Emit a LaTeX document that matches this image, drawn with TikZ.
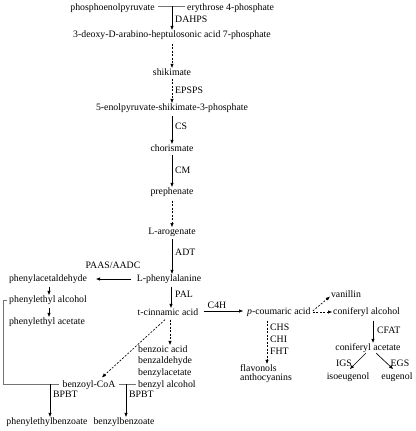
\documentclass[tikz,border=0pt]{standalone}
\usepackage{fontspec}
\setmainfont{Liberation Serif}
\usetikzlibrary{arrows.meta}
\tikzset{
  lab/.style={inner sep=0pt, font=\fontsize{9.8}{11}\selectfont},
  arr/.style={-{Triangle[length=4pt,width=3pt]}, line width=0.65pt, black},
  darr/.style={arr, dash pattern=on 2pt off 1.5pt},
  ln/.style={line width=0.6pt, black!55},
}
\begin{document}
\begin{tikzpicture}[x=1pt,y=-1pt]
\useasboundingbox (0,0) rectangle (415,431);
% main column
\node[lab,anchor=east] (pep) at (155,8) {phosphoenolpyruvate};
\node[lab,anchor=west] (e4p) at (187,8) {erythrose 4-phosphate};
\coordinate (j1) at (172,6);
\node[lab] (dahp) at (172,35) {3-deoxy-D-arabino-heptulosonic acid 7-phosphate};
\node[lab,anchor=west] (dahps) at (175,19) {DAHPS};
\node[lab] (shik) at (172,72) {shikimate};
\node[lab,anchor=west] (epsps) at (175,90) {EPSPS};
\node[lab] (esp) at (172,108) {5-enolpyruvate-shikimate-3-phosphate};
\node[lab,anchor=west] (cs) at (175,126) {CS};
\node[lab] (chor) at (172,148) {chorismate};
\node[lab,anchor=west] (cm) at (175,170) {CM};
\node[lab] (preph) at (172,192) {prephenate};
\node[lab] (arog) at (172,232) {L-arogenate};
\node[lab,anchor=west] (adt) at (175,252) {ADT};
\node[lab] (phe) at (169,279) {L-phenylalanine};
\node[lab,anchor=west] (pal) at (175,294) {PAL};
\node[lab] (tcin) at (168,312) {t-cinnamic acid};
% left branch
\node[lab] (paas) at (113,265) {PAAS/AADC};
\node[lab] (phald) at (48,279) {phenylacetaldehyde};
\node[lab] (pea) at (48,300) {phenylethyl alcohol};
\node[lab] (peac) at (47,322) {phenylethyl acetate};
% benzenoids
\node[lab,anchor=west] (bzac) at (138,349) {benzoic acid};
\node[lab,anchor=west] (bzald) at (138,361) {benzaldehyde};
\node[lab,anchor=west] (bzlac) at (138,373) {benzylacetate};
\node[lab,anchor=west] (bzalc) at (138,385) {benzyl alcohol};
\node[lab] (bcoa) at (89,385) {benzoyl-CoA};
\node[lab,anchor=west] (bpbt1) at (53,394) {BPBT};
\node[lab,anchor=west] (bpbt2) at (129,394) {BPBT};
\node[lab] (pebz) at (47,422) {phenylethylbenzoate};
\node[lab] (bzbz) at (124,422) {benzylbenzoate};
% phenylpropanoids
\node[lab,anchor=south] (c4h) at (217,309) {C4H};
\node[lab,anchor=west] (pcou) at (247,312) {\textit{p}-coumaric acid};
\node[lab] (van) at (346,294) {vanillin};
\node[lab,anchor=west] (conalc) at (333,312) {coniferyl alcohol};
\node[lab,anchor=west] (cfat) at (377,330) {CFAT};
\node[lab] (conac) at (368,348) {coniferyl acetate};
\node[lab] (igs) at (344,363) {IGS};
\node[lab] (egs) at (400,363) {EGS};
\node[lab] (isoeug) at (348,377) {isoeugenol};
\node[lab] (eug) at (397,377) {eugenol};
\node[lab,anchor=west] (chs) at (270,327) {CHS};
\node[lab,anchor=west] (chi) at (270,339) {CHI};
\node[lab,anchor=west] (fht) at (270,351) {FHT};
\node[lab,anchor=west] (flav) at (240,368) {flavonols};
\node[lab,anchor=west] (anth) at (240,378) {anthocyanins};
% coordinates
\coordinate (jb1) at (50,384);
\coordinate (jb2) at (126,384);
% connectors main column
\draw[ln] ([xshift=3pt]pep.east |- j1) -- ([xshift=-2pt]e4p.west |- j1);
\draw[arr] (j1) -- ([yshift=0.5pt]j1 |- dahp.north);
\draw[darr] ([yshift=-4pt]dahp.south) -- ([yshift=0.5pt]shik.north);
\draw[darr] ([yshift=-3pt]shik.south) -- ([yshift=0.5pt]esp.north);
\draw[arr] ([yshift=-3pt]esp.south) -- ([yshift=0.5pt]chor.north);
\draw[arr] ([yshift=-3pt]chor.south) -- ([yshift=0.5pt]preph.north);
\draw[darr] ([yshift=-4pt]preph.south) -- ([yshift=0.5pt]arog.north);
\draw[arr] ([yshift=-3pt]arog.south) -- ([yshift=0.5pt]arog.south |- phe.north);
\draw[arr] ([xshift=2pt,yshift=-3pt]phe.south) -- ([xshift=2pt,yshift=0.5pt]phe.south |- tcin.north);
% left branch
\draw[arr] ([xshift=-6pt]phe.west) -- ([xshift=9pt]phald.east);
\draw[arr] ([xshift=1pt,yshift=-3pt]phald.south) -- ([xshift=1pt,yshift=0.5pt]phald.south |- pea.north);
\draw[arr] ([xshift=1pt,yshift=-3pt]pea.south) -- ([xshift=1pt,yshift=0.5pt]pea.south |- peac.north);
\draw[ln] ([xshift=-2pt]pea.west) -- (3,300) |- ([xshift=-3pt]bcoa.west |- jb1);
\draw[arr] (jb1) -- ([yshift=0.5pt]jb1 |- pebz.north);
\draw[ln] ([xshift=3pt]bcoa.east |- jb2) -- ([xshift=-2pt]bzalc.west |- jb2);
\draw[arr] (jb2) -- ([yshift=0.5pt]jb2 |- bzbz.north);
\draw[darr] ([xshift=2pt,yshift=-4pt]tcin.south) -- ([xshift=2pt,yshift=0.5pt]tcin.south |- bzac.north);
\draw[darr] ([xshift=-3pt,yshift=-4pt]tcin.south) -- ([xshift=13pt,yshift=3pt]bcoa.north);
% right branch
\draw[arr] ([xshift=5pt,yshift=1pt]tcin.east) -- ([xshift=-4pt,yshift=1pt]pcou.west);
\draw[darr] ([xshift=2pt,yshift=1pt]pcou.east) -- ([xshift=-1pt,yshift=1pt]van.south west);
\draw[darr] ([xshift=2pt]pcou.east) -- ([xshift=-1pt]conalc.west);
\draw[arr] ([yshift=-4pt]conalc.south -| 373,0) -- ([yshift=0.5pt]conac.north -| 373,0);
\draw[arr] (366,353) -- (350,369);
\draw[arr] (376,353) -- (393,369);
\draw[darr] ([yshift=-4pt]pcou.south -| 267,0) -- ([yshift=0.5pt]flav.north -| 267,0);
\end{tikzpicture}
\end{document}
